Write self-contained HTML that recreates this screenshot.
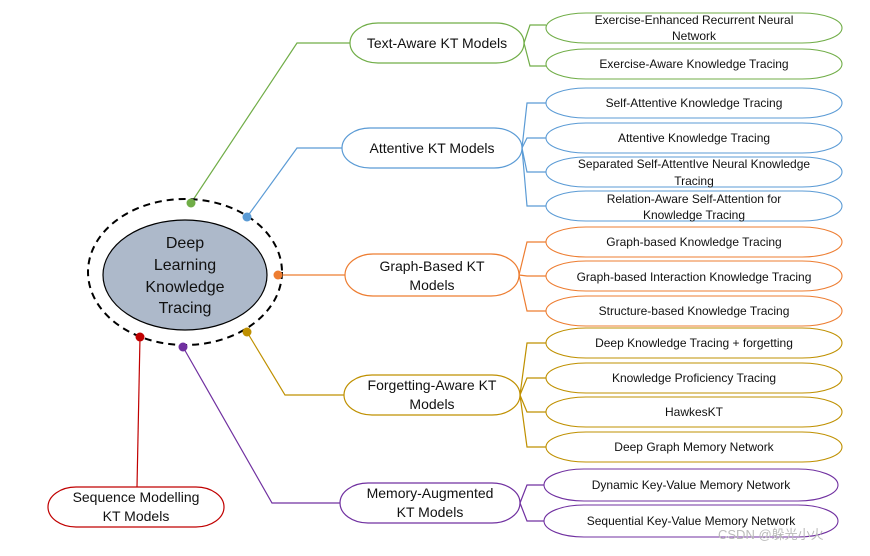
<!DOCTYPE html>
<html><head><meta charset="utf-8"><style>
body{margin:0;background:#fff;width:870px;height:551px;overflow:hidden}
svg text{font-family:"Liberation Sans","Noto Sans CJK SC",sans-serif;fill:#111}
</style></head><body>
<svg width="870" height="551" viewBox="0 0 870 551">
<g fill="none" stroke-width="1.2">
<polyline points="191,203 297,43 350,43" stroke="#70ad47"/>
<polyline points="247,217 297,148 342,148" stroke="#5b9bd5"/>
<polyline points="278,275 345,275" stroke="#ed7d31"/>
<polyline points="247,332 285,395 344,395" stroke="#bf9000"/>
<polyline points="183,347 272,503 340,503" stroke="#7030a0"/>
<polyline points="140,337 137,487" stroke="#c00000"/>
<g stroke="#70ad47"><polyline points="524,43 530,25 546,25"/><polyline points="524,43 530,66 546,66"/></g>
<g stroke="#5b9bd5"><polyline points="522,148 527,103 546,103"/><polyline points="522,148 527,138 546,138"/><polyline points="522,148 527,172 546,172"/><polyline points="522,148 527,206 546,206"/></g>
<g stroke="#ed7d31"><polyline points="519,275 527,242 546,242"/><polyline points="519,275 527,276 546,276"/><polyline points="519,275 527,311 546,311"/></g>
<g stroke="#bf9000"><polyline points="520,395 527,343 546,343"/><polyline points="520,395 527,378 546,378"/><polyline points="520,395 527,412 546,412"/><polyline points="520,395 527,447 546,447"/></g>
<g stroke="#7030a0"><polyline points="520,503 527,485 546,485"/><polyline points="520,503 527,521 546,521"/></g>
</g>
<ellipse cx="185" cy="272" rx="97" ry="73" fill="none" stroke="#000" stroke-width="2" stroke-dasharray="7,5"/>
<ellipse cx="185" cy="275" rx="82" ry="55" fill="#adb9ca" stroke="#000" stroke-width="1.2"/>
<g font-size="16" text-anchor="middle"><text x="185" y="248">Deep</text><text x="185" y="270">Learning</text><text x="185" y="292">Knowledge</text><text x="185" y="313">Tracing</text></g>
<circle cx="191" cy="203" r="4.5" fill="#70ad47"/><circle cx="247" cy="217" r="4.5" fill="#5b9bd5"/><circle cx="278" cy="275" r="4.5" fill="#ed7d31"/><circle cx="247" cy="332" r="4.5" fill="#bf9000"/><circle cx="183" cy="347" r="4.5" fill="#7030a0"/><circle cx="140" cy="337" r="4.5" fill="#c00000"/>
<g fill="#fff" stroke-width="1.2">
<rect x="350" y="23" width="174" height="40" rx="28" ry="20" stroke="#70ad47"/>
<rect x="342" y="128" width="180" height="40" rx="28" ry="20" stroke="#5b9bd5"/>
<rect x="345" y="254" width="174" height="42" rx="28" ry="21" stroke="#ed7d31"/>
<rect x="344" y="375" width="176" height="40" rx="28" ry="20" stroke="#bf9000"/>
<rect x="340" y="483" width="180" height="40" rx="28" ry="20" stroke="#7030a0"/>
<rect x="48" y="487" width="176" height="40" rx="28" ry="20" stroke="#c00000"/>
</g>
<g font-size="14" text-anchor="middle">
<text x="437" y="48">Text-Aware KT Models</text>
<text x="432" y="153">Attentive KT Models</text>
<text x="432" y="271">Graph-Based KT</text><text x="432" y="290">Models</text>
<text x="432" y="390">Forgetting-Aware KT</text><text x="432" y="409">Models</text>
<text x="430" y="498">Memory-Augmented</text><text x="430" y="517">KT Models</text>
<text x="136" y="502">Sequence Modelling</text><text x="136" y="521">KT Models</text>
</g>
<g fill="#fff" stroke-width="1.1">
<g stroke="#70ad47"><rect x="546" y="13" width="296" height="30" rx="40" ry="15"/><rect x="546" y="49" width="296" height="30" rx="40" ry="15"/></g>
<g stroke="#5b9bd5"><rect x="546" y="88" width="296" height="30" rx="40" ry="15"/><rect x="546" y="123" width="296" height="30" rx="40" ry="15"/><rect x="546" y="157" width="296" height="30" rx="40" ry="15"/><rect x="546" y="191" width="296" height="30" rx="40" ry="15"/></g>
<g stroke="#ed7d31"><rect x="546" y="227" width="296" height="30" rx="40" ry="15"/><rect x="546" y="261" width="296" height="30" rx="40" ry="15"/><rect x="546" y="296" width="296" height="30" rx="40" ry="15"/></g>
<g stroke="#bf9000"><rect x="546" y="328" width="296" height="30" rx="40" ry="15"/><rect x="546" y="363" width="296" height="30" rx="40" ry="15"/><rect x="546" y="397" width="296" height="30" rx="40" ry="15"/><rect x="546" y="432" width="296" height="30" rx="40" ry="15"/></g>
<g stroke="#7030a0"><rect x="544" y="469" width="294" height="32" rx="40" ry="16"/><rect x="544" y="505" width="294" height="32" rx="40" ry="16"/></g>
</g>
<g font-size="12" text-anchor="middle">
<text x="694" y="24">Exercise-Enhanced Recurrent Neural</text><text x="694" y="40">Network</text>
<text x="694" y="68">Exercise-Aware Knowledge Tracing</text>
<text x="694" y="107">Self-Attentive Knowledge Tracing</text>
<text x="694" y="142">Attentive Knowledge Tracing</text>
<text x="694" y="168">Separated Self-AttentIve Neural Knowledge</text><text x="694" y="185">Tracing</text>
<text x="694" y="203">Relation-Aware Self-Attention for</text><text x="694" y="219">Knowledge Tracing</text>
<text x="694" y="246">Graph-based Knowledge Tracing</text>
<text x="694" y="281">Graph-based Interaction Knowledge Tracing</text>
<text x="694" y="315">Structure-based Knowledge Tracing</text>
<text x="694" y="347">Deep Knowledge Tracing + forgetting</text>
<text x="694" y="382">Knowledge Proficiency Tracing</text>
<text x="694" y="416">HawkesKT</text>
<text x="694" y="451">Deep Graph Memory Network</text>
<text x="691" y="489">Dynamic Key-Value Memory Network</text>
<text x="691" y="525">Sequential Key-Value Memory Network</text>
</g>
<text x="718" y="539" font-size="13" style="fill:#bbb">CSDN @躲光小火</text>
</svg>
</body></html>
